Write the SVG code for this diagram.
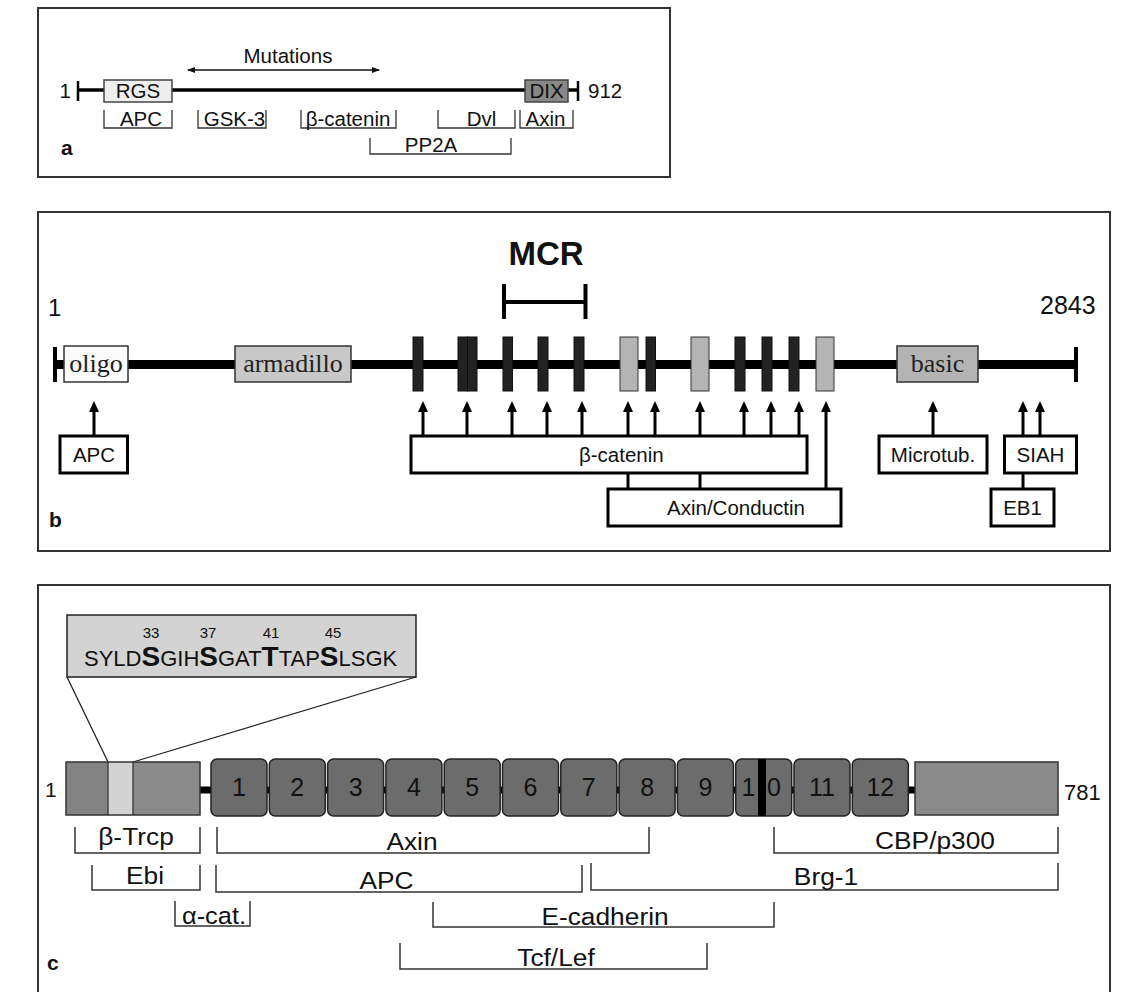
<svg xmlns="http://www.w3.org/2000/svg" width="1142" height="992" viewBox="0 0 1142 992">
<style>
text{font-family:"Liberation Sans",Arial,sans-serif;fill:#111}
.panel{fill:#fff;stroke:#333;stroke-width:2}
.t20{font-size:20.5px}
.mid{text-anchor:middle}
.br{fill:none;stroke:#333;stroke-width:1.3}
.brc{fill:none;stroke:#333;stroke-width:1.5}
.lbl{font-weight:bold;font-size:21px}
.serif{font-family:"Liberation Serif","Times New Roman",serif;font-size:26px;fill:#222;text-anchor:middle}
.bar{fill:#222;stroke:#111;stroke-width:1}
.gbar{fill:#b4b4b4;stroke:#333;stroke-width:1}
.bx{fill:#fff;stroke:#000;stroke-width:3}
.arr{stroke:#000;stroke-width:3;fill:none;marker-end:url(#ah)}
.con{stroke:#000;stroke-width:3;fill:none}
.dom{fill:#6c6c6c;stroke:#222;stroke-width:1.5}
.dnum{font-size:25px;text-anchor:middle;fill:#111}
.cl{font-size:23.5px;text-anchor:middle}
</style>
<defs>
<marker id="ah" viewBox="0 0 11 10" refX="7" refY="5" markerWidth="11" markerHeight="10" markerUnits="userSpaceOnUse" orient="auto">
<path d="M0,0 L11,5 L0,10 z" fill="#000"/>
</marker>
<marker id="sh" viewBox="0 0 8 6" refX="7" refY="3" markerWidth="8" markerHeight="6" markerUnits="userSpaceOnUse" orient="auto-start-reverse">
<path d="M0,0 L8,3 L0,6 z" fill="#111"/>
</marker>
</defs>

<!-- Panel a -->
<g id="panel-a">
<rect class="panel" x="38" y="8" width="632" height="169"/>
<text class="lbl" x="61" y="155">a</text>
</g>
<g id="a-mutations">
<text class="t20 mid" x="288" y="63">Mutations</text>
<line x1="188" y1="70" x2="379" y2="70" stroke="#111" stroke-width="1.5" marker-start="url(#sh)" marker-end="url(#sh)"/>
</g>
<g id="a-backbone">
<line x1="78" y1="90" x2="578" y2="90" stroke="#000" stroke-width="3.5"/>
<line x1="78" y1="81" x2="78" y2="101" stroke="#000" stroke-width="2.5"/>
<line x1="578" y1="81" x2="578" y2="101" stroke="#000" stroke-width="2.5"/>
<text class="t20" x="71" y="98" text-anchor="end">1</text>
<text class="t20" x="588" y="98">912</text>
</g>
<g id="a-RGS">
<rect x="104" y="80" width="68" height="22" fill="#eeeeee" stroke="#444" stroke-width="1.5"/>
<text class="t20 mid" x="138" y="98">RGS</text>
</g>
<g id="a-DIX">
<rect x="525" y="80" width="43" height="22" fill="#888" stroke="#444" stroke-width="1.5"/>
<text class="t20 mid" x="546.5" y="98">DIX</text>
</g>
<g id="a-APC"><path class="br" d="M104,110 V128 H172 V110"/><text class="t20 mid" x="141" y="126">APC</text></g>
<g id="a-GSK3"><path class="br" d="M198,110 V128 H266 V110"/><text class="t20 mid" x="234.5" y="126">GSK-3</text></g>
<g id="a-bcat"><path class="br" d="M301,110 V128 H396 V110"/><text class="t20 mid" x="348" y="126">β-catenin</text></g>
<g id="a-Dvl"><path class="br" d="M438,110 V128 H515 V110"/><text class="t20 mid" x="481.5" y="126">Dvl</text></g>
<g id="a-Axin"><path class="br" d="M520,110 V128 H573 V110"/><text class="t20 mid" x="545.5" y="126">Axin</text></g>
<g id="a-PP2A"><path class="br" d="M370,138 V154 H511 V138"/><text class="t20 mid" x="431" y="152">PP2A</text></g>

<!-- Panel b -->
<g id="panel-b">
<rect class="panel" x="38" y="212" width="1072" height="339"/>
<text class="lbl" x="49" y="527">b</text>
</g>
<g id="b-MCR">
<text x="546" y="265" font-size="33" font-weight="bold" text-anchor="middle">MCR</text>
<path d="M504,284 V319 M504,302 H585.5 M585.5,284 V319" stroke="#000" stroke-width="4" fill="none"/>
</g>
<g id="b-backbone">
<line x1="55" y1="364.5" x2="1076" y2="364.5" stroke="#000" stroke-width="9"/>
<line x1="55" y1="347" x2="55" y2="382" stroke="#000" stroke-width="4"/>
<line x1="1076" y1="347" x2="1076" y2="382" stroke="#000" stroke-width="4"/>
<text x="48" y="316" font-size="24">1</text>
<text x="1040" y="314" font-size="25">2843</text>
</g>
<g id="b-oligo"><rect x="64" y="346" width="64" height="36" fill="#fafafa" stroke="#333" stroke-width="1.5"/><text class="serif" x="96" y="372">oligo</text></g>
<g id="b-armadillo"><rect x="235" y="346" width="116" height="36" fill="#c8c8c8" stroke="#333" stroke-width="1.5"/><text class="serif" x="293" y="372">armadillo</text></g>
<g id="b-basic"><rect x="897" y="346" width="81" height="36" fill="#b4b4b4" stroke="#333" stroke-width="1.5"/><text class="serif" x="937.5" y="372">basic</text></g>
<g id="b-repeats">
<rect class="bar" x="413" y="337" width="10" height="54"/>
<rect class="bar" x="458" y="337" width="9.5" height="54"/>
<rect class="bar" x="467.5" y="337" width="9.5" height="54"/>
<rect class="bar" x="503" y="337" width="9.5" height="54"/>
<rect class="bar" x="538" y="337" width="10" height="54"/>
<rect class="bar" x="574" y="337" width="10" height="54"/>
<rect class="gbar" x="620" y="337" width="18" height="54"/>
<rect class="bar" x="646" y="337" width="9.5" height="54"/>
<rect class="gbar" x="691" y="337" width="18" height="54"/>
<rect class="bar" x="735" y="337" width="10" height="54"/>
<rect class="bar" x="762" y="337" width="10" height="54"/>
<rect class="bar" x="789" y="337" width="10" height="54"/>
<rect class="gbar" x="816" y="337" width="18" height="54"/>
</g>
<g id="b-APCbox"><rect class="bx" x="60" y="436" width="67.5" height="37"/><text class="t20 mid" x="94" y="462">APC</text></g>
<g id="b-bcat"><rect class="bx" x="411" y="436" width="396" height="37"/><text class="t20" x="579" y="462">β-catenin</text></g>
<g id="b-axin"><rect class="bx" x="608" y="489" width="233" height="37"/><text class="t20" x="667" y="515">Axin/Conductin</text></g>
<g id="b-microtub"><rect class="bx" x="879" y="436" width="108" height="37"/><text class="t20 mid" x="933" y="462">Microtub.</text></g>
<g id="b-SIAH"><rect class="bx" x="1004.5" y="436" width="72" height="37"/><text class="t20 mid" x="1040.5" y="462">SIAH</text></g>
<g id="b-EB1"><rect class="bx" x="991" y="489" width="63" height="37"/><text class="t20 mid" x="1022.5" y="515">EB1</text></g>
<g id="b-connectors">
<line class="arr" x1="94" y1="436" x2="94" y2="405"/>
<line class="arr" x1="423" y1="436" x2="423" y2="405"/>
<line class="arr" x1="467" y1="436" x2="467" y2="405"/>
<line class="arr" x1="512" y1="436" x2="512" y2="405"/>
<line class="arr" x1="547" y1="436" x2="547" y2="405"/>
<line class="arr" x1="582" y1="436" x2="582" y2="405"/>
<line class="arr" x1="628" y1="436" x2="628" y2="405"/>
<line class="arr" x1="655" y1="436" x2="655" y2="405"/>
<line class="arr" x1="700" y1="436" x2="700" y2="405"/>
<line class="arr" x1="744" y1="436" x2="744" y2="405"/>
<line class="arr" x1="771" y1="436" x2="771" y2="405"/>
<line class="arr" x1="799" y1="436" x2="799" y2="405"/>
<line class="arr" x1="826" y1="489" x2="826" y2="405"/>
<line class="arr" x1="933" y1="436" x2="933" y2="405"/>
<line class="arr" x1="1023" y1="436" x2="1023" y2="405"/>
<line class="arr" x1="1040" y1="436" x2="1040" y2="405"/>
<line class="con" x1="628" y1="473" x2="628" y2="489"/>
<line class="con" x1="700" y1="473" x2="700" y2="489"/>
<line class="con" x1="1023" y1="473" x2="1023" y2="489"/>
</g>

<!-- Panel c -->
<g id="panel-c">
<rect class="panel" x="38" y="585" width="1072" height="420"/>
<text class="lbl" x="47" y="970">c</text>
</g>
<g id="c-inset">
<rect x="67" y="615" width="349" height="62" fill="#d3d3d3" stroke="#222" stroke-width="1.5"/>
<text font-size="15" text-anchor="middle" y="638"><tspan x="151">33</tspan><tspan x="208">37</tspan><tspan x="271">41</tspan><tspan x="333">45</tspan></text>
<text x="84" y="666" font-size="22">SYLD<tspan font-weight="bold" font-size="28">S</tspan>GIH<tspan font-weight="bold" font-size="28">S</tspan>GAT<tspan font-weight="bold" font-size="28">T</tspan>TAP<tspan font-weight="bold" font-size="28">S</tspan>LSGK</text>
<line x1="67" y1="677" x2="108" y2="762" stroke="#222" stroke-width="1.3"/>
<line x1="416" y1="677" x2="133" y2="762" stroke="#222" stroke-width="1.3"/>
</g>
<g id="c-backbone">
<line x1="200" y1="790" x2="915" y2="790" stroke="#000" stroke-width="7"/>
<text x="45" y="797" font-size="21">1</text>
<text x="1064" y="800" font-size="22">781</text>
</g>
<g id="c-Nterm">
<rect x="66" y="762" width="42" height="53" fill="#838383"/>
<rect x="108" y="762" width="25" height="53" fill="#d3d3d3"/>
<rect x="133" y="762" width="67" height="53" fill="#8a8a8a"/>
<rect x="66" y="762" width="134" height="53" fill="none" stroke="#333" stroke-width="1.5"/>
<line x1="108" y1="762" x2="108" y2="815" stroke="#333" stroke-width="1.3"/>
<line x1="133" y1="762" x2="133" y2="815" stroke="#333" stroke-width="1.3"/>
</g>
<g id="c-arm1"><rect class="dom" x="211" y="759" width="56" height="57" rx="6"/><text class="dnum" x="239" y="796">1</text></g>
<g id="c-arm2"><rect class="dom" x="269.3" y="759" width="56" height="57" rx="6"/><text class="dnum" x="297.3" y="796">2</text></g>
<g id="c-arm3"><rect class="dom" x="327.6" y="759" width="56" height="57" rx="6"/><text class="dnum" x="355.6" y="796">3</text></g>
<g id="c-arm4"><rect class="dom" x="385.9" y="759" width="56" height="57" rx="6"/><text class="dnum" x="413.9" y="796">4</text></g>
<g id="c-arm5"><rect class="dom" x="444.2" y="759" width="56" height="57" rx="6"/><text class="dnum" x="472.2" y="796">5</text></g>
<g id="c-arm6"><rect class="dom" x="502.5" y="759" width="56" height="57" rx="6"/><text class="dnum" x="530.5" y="796">6</text></g>
<g id="c-arm7"><rect class="dom" x="560.8" y="759" width="56" height="57" rx="6"/><text class="dnum" x="588.8" y="796">7</text></g>
<g id="c-arm8"><rect class="dom" x="619.1" y="759" width="56" height="57" rx="6"/><text class="dnum" x="647.1" y="796">8</text></g>
<g id="c-arm9"><rect class="dom" x="677.4" y="759" width="56" height="57" rx="6"/><text class="dnum" x="705.4" y="796">9</text></g>
<g id="c-arm10"><rect class="dom" x="735.7" y="759" width="56" height="57" rx="6"/><rect x="758" y="759" width="8" height="57" fill="#000"/><text font-size="25" x="741.5 767" y="796">10</text></g>
<g id="c-arm11"><rect class="dom" x="794" y="759" width="56" height="57" rx="6"/><text class="dnum" x="822" y="796">11</text></g>
<g id="c-arm12"><rect class="dom" x="852.3" y="759" width="56" height="57" rx="6"/><text class="dnum" x="880.3" y="796">12</text></g>
<g id="c-Cterm"><rect x="915" y="762" width="143" height="53" fill="#8a8a8a" stroke="#333" stroke-width="1.5"/></g>
<g id="c-bTrcp"><path class="brc" d="M75,827 V853 H200 V827"/><text class="cl" transform="translate(136,845) scale(1.12,1)">β-Trcp</text></g>
<g id="c-Axin"><path class="brc" d="M217,827 V853 H649 V827"/><text class="cl" transform="translate(412,850) scale(1.12,1)">Axin</text></g>
<g id="c-CBP"><path class="brc" d="M774,827 V853 H1058 V827"/><text class="cl" transform="translate(935,849) scale(1.12,1)">CBP/p300</text></g>
<g id="c-Ebi"><path class="brc" d="M92,865 V890 H200 V865"/><text class="cl" transform="translate(145,884) scale(1.12,1)">Ebi</text></g>
<g id="c-APC"><path class="brc" d="M216,865 V892 H582 V865"/><text class="cl" transform="translate(386.5,889) scale(1.12,1)">APC</text></g>
<g id="c-Brg1"><path class="brc" d="M591,863 V890 H1058 V863"/><text class="cl" transform="translate(826,885) scale(1.12,1)">Brg-1</text></g>
<g id="c-acat"><path class="brc" d="M175,901 V926 H250 V901"/><text class="cl" transform="translate(214,924) scale(1.08,1)">α-cat.</text></g>
<g id="c-Ecad"><path class="brc" d="M433,902 V927 H774 V902"/><text class="cl" transform="translate(605,925) scale(1.12,1)">E-cadherin</text></g>
<g id="c-Tcf"><path class="brc" d="M400,943 V969 H707 V943"/><text class="cl" transform="translate(556,966) scale(1.12,1)">Tcf/Lef</text></g>
</svg>
